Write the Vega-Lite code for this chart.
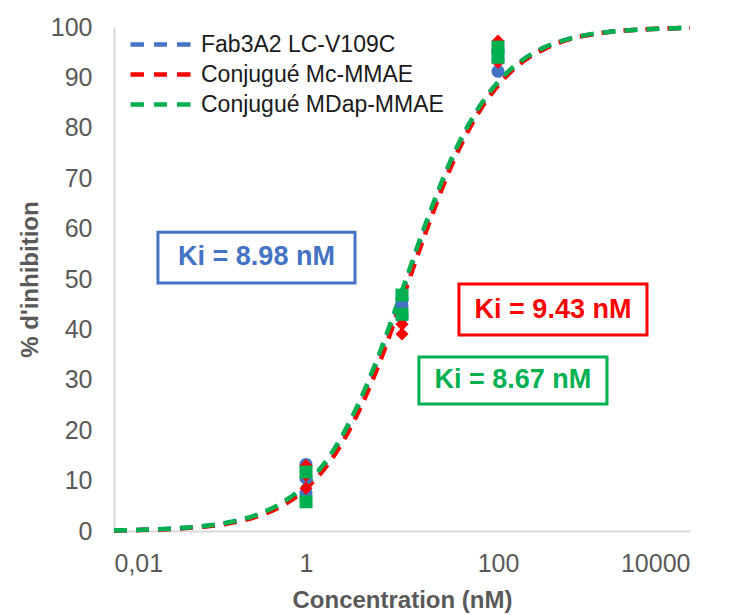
{
  "$schema": "https://vega.github.io/schema/vega-lite/v6.json",
  "autosize": {"type": "none"},
  "padding": {"left": 114, "top": 27, "right": 39, "bottom": 84},
  "width": 576,
  "height": 504,
  "background": "white",
  "config": {
    "view": {"stroke": null},
    "font": "Liberation Sans",
    "axis": {"grid": false, "ticks": false, "tickSize": 0, "domainColor": "#D9D9D9", "domainWidth": 2,
             "labelColor": "#595959", "labelFontSize": 25, "labelFont": "Liberation Sans",
             "titleColor": "#595959", "titleFontSize": 24, "titleFont": "Liberation Sans", "titleFontWeight": "bold"}
  },
  "datasets": {
    "curves": [
      {"series": "Fab3A2 LC-V109C", "x": 0.01, "y": 0.12},
      {"series": "Fab3A2 LC-V109C", "x": 0.0178, "y": 0.21},
      {"series": "Fab3A2 LC-V109C", "x": 0.0316, "y": 0.36},
      {"series": "Fab3A2 LC-V109C", "x": 0.0562, "y": 0.63},
      {"series": "Fab3A2 LC-V109C", "x": 0.1, "y": 1.08},
      {"series": "Fab3A2 LC-V109C", "x": 0.178, "y": 1.86},
      {"series": "Fab3A2 LC-V109C", "x": 0.316, "y": 3.2},
      {"series": "Fab3A2 LC-V109C", "x": 0.562, "y": 5.4},
      {"series": "Fab3A2 LC-V109C", "x": 1, "y": 9.0},
      {"series": "Fab3A2 LC-V109C", "x": 1.78, "y": 14.6},
      {"series": "Fab3A2 LC-V109C", "x": 3.16, "y": 22.9},
      {"series": "Fab3A2 LC-V109C", "x": 5.62, "y": 33.9},
      {"series": "Fab3A2 LC-V109C", "x": 10, "y": 47.1},
      {"series": "Fab3A2 LC-V109C", "x": 17.8, "y": 60.6},
      {"series": "Fab3A2 LC-V109C", "x": 31.6, "y": 72.8},
      {"series": "Fab3A2 LC-V109C", "x": 56.2, "y": 82.2},
      {"series": "Fab3A2 LC-V109C", "x": 100, "y": 88.9},
      {"series": "Fab3A2 LC-V109C", "x": 178, "y": 93.3},
      {"series": "Fab3A2 LC-V109C", "x": 316, "y": 96.0},
      {"series": "Fab3A2 LC-V109C", "x": 562, "y": 97.7},
      {"series": "Fab3A2 LC-V109C", "x": 1000, "y": 98.6},
      {"series": "Fab3A2 LC-V109C", "x": 1778, "y": 99.2},
      {"series": "Fab3A2 LC-V109C", "x": 3162, "y": 99.5},
      {"series": "Fab3A2 LC-V109C", "x": 5623, "y": 99.7},
      {"series": "Fab3A2 LC-V109C", "x": 10000, "y": 99.85},
      {"series": "Conjugué Mc-MMAE", "x": 0.01, "y": 0.1},
      {"series": "Conjugué Mc-MMAE", "x": 0.0178, "y": 0.18},
      {"series": "Conjugué Mc-MMAE", "x": 0.0316, "y": 0.32},
      {"series": "Conjugué Mc-MMAE", "x": 0.0562, "y": 0.57},
      {"series": "Conjugué Mc-MMAE", "x": 0.1, "y": 0.99},
      {"series": "Conjugué Mc-MMAE", "x": 0.178, "y": 1.72},
      {"series": "Conjugué Mc-MMAE", "x": 0.316, "y": 2.95},
      {"series": "Conjugué Mc-MMAE", "x": 0.562, "y": 5.0},
      {"series": "Conjugué Mc-MMAE", "x": 1, "y": 8.4},
      {"series": "Conjugué Mc-MMAE", "x": 1.78, "y": 13.8},
      {"series": "Conjugué Mc-MMAE", "x": 3.16, "y": 21.8},
      {"series": "Conjugué Mc-MMAE", "x": 5.62, "y": 32.6},
      {"series": "Conjugué Mc-MMAE", "x": 10, "y": 45.8},
      {"series": "Conjugué Mc-MMAE", "x": 17.8, "y": 59.4},
      {"series": "Conjugué Mc-MMAE", "x": 31.6, "y": 71.8},
      {"series": "Conjugué Mc-MMAE", "x": 56.2, "y": 81.5},
      {"series": "Conjugué Mc-MMAE", "x": 100, "y": 88.4},
      {"series": "Conjugué Mc-MMAE", "x": 178, "y": 93.0},
      {"series": "Conjugué Mc-MMAE", "x": 316, "y": 95.8},
      {"series": "Conjugué Mc-MMAE", "x": 562, "y": 97.6},
      {"series": "Conjugué Mc-MMAE", "x": 1000, "y": 98.6},
      {"series": "Conjugué Mc-MMAE", "x": 1778, "y": 99.2},
      {"series": "Conjugué Mc-MMAE", "x": 3162, "y": 99.5},
      {"series": "Conjugué Mc-MMAE", "x": 5623, "y": 99.7},
      {"series": "Conjugué Mc-MMAE", "x": 10000, "y": 99.85},
      {"series": "Conjugué MDap-MMAE", "x": 0.01, "y": 0.13},
      {"series": "Conjugué MDap-MMAE", "x": 0.0178, "y": 0.22},
      {"series": "Conjugué MDap-MMAE", "x": 0.0316, "y": 0.38},
      {"series": "Conjugué MDap-MMAE", "x": 0.0562, "y": 0.66},
      {"series": "Conjugué MDap-MMAE", "x": 0.1, "y": 1.12},
      {"series": "Conjugué MDap-MMAE", "x": 0.178, "y": 1.93},
      {"series": "Conjugué MDap-MMAE", "x": 0.316, "y": 3.3},
      {"series": "Conjugué MDap-MMAE", "x": 0.562, "y": 5.6},
      {"series": "Conjugué MDap-MMAE", "x": 1, "y": 9.3},
      {"series": "Conjugué MDap-MMAE", "x": 1.78, "y": 15.0},
      {"series": "Conjugué MDap-MMAE", "x": 3.16, "y": 23.4},
      {"series": "Conjugué MDap-MMAE", "x": 5.62, "y": 34.5},
      {"series": "Conjugué MDap-MMAE", "x": 10, "y": 47.7},
      {"series": "Conjugué MDap-MMAE", "x": 17.8, "y": 61.2},
      {"series": "Conjugué MDap-MMAE", "x": 31.6, "y": 73.2},
      {"series": "Conjugué MDap-MMAE", "x": 56.2, "y": 82.5},
      {"series": "Conjugué MDap-MMAE", "x": 100, "y": 89.1},
      {"series": "Conjugué MDap-MMAE", "x": 178, "y": 93.4},
      {"series": "Conjugué MDap-MMAE", "x": 316, "y": 96.1},
      {"series": "Conjugué MDap-MMAE", "x": 562, "y": 97.7},
      {"series": "Conjugué MDap-MMAE", "x": 1000, "y": 98.7},
      {"series": "Conjugué MDap-MMAE", "x": 1778, "y": 99.2},
      {"series": "Conjugué MDap-MMAE", "x": 3162, "y": 99.5},
      {"series": "Conjugué MDap-MMAE", "x": 5623, "y": 99.7},
      {"series": "Conjugué MDap-MMAE", "x": 10000, "y": 99.85}
    ],
    "points": [
      {"grp": "Fab3A2 LC-V109C", "x": 1, "y": 13.2},
      {"grp": "Fab3A2 LC-V109C", "x": 1, "y": 7.5},
      {"grp": "Fab3A2 LC-V109C", "x": 1, "y": 10.5},
      {"grp": "Fab3A2 LC-V109C", "x": 10, "y": 44.7},
      {"grp": "Fab3A2 LC-V109C", "x": 10, "y": 42.5},
      {"grp": "Fab3A2 LC-V109C", "x": 10, "y": 46.0},
      {"grp": "Fab3A2 LC-V109C", "x": 100, "y": 91.2},
      {"grp": "Fab3A2 LC-V109C", "x": 100, "y": 93.5},
      {"grp": "Fab3A2 LC-V109C", "x": 100, "y": 95.5},
      {"grp": "Conjugué Mc-MMAE", "x": 1, "y": 13.0},
      {"grp": "Conjugué Mc-MMAE", "x": 1, "y": 8.5},
      {"grp": "Conjugué Mc-MMAE", "x": 1, "y": 11.0},
      {"grp": "Conjugué Mc-MMAE", "x": 10, "y": 41.0},
      {"grp": "Conjugué Mc-MMAE", "x": 10, "y": 39.1},
      {"grp": "Conjugué Mc-MMAE", "x": 10, "y": 43.0},
      {"grp": "Conjugué Mc-MMAE", "x": 100, "y": 97.2},
      {"grp": "Conjugué Mc-MMAE", "x": 100, "y": 95.0},
      {"grp": "Conjugué Mc-MMAE", "x": 100, "y": 93.0},
      {"grp": "Conjugué MDap-MMAE", "x": 1, "y": 11.7},
      {"grp": "Conjugué MDap-MMAE", "x": 1, "y": 5.8},
      {"grp": "Conjugué MDap-MMAE", "x": 10, "y": 46.8},
      {"grp": "Conjugué MDap-MMAE", "x": 10, "y": 43.0},
      {"grp": "Conjugué MDap-MMAE", "x": 100, "y": 96.0},
      {"grp": "Conjugué MDap-MMAE", "x": 100, "y": 94.0}
    ],
    "boxes": [
      {"series": "Fab3A2 LC-V109C", "label": "Ki = 8.98 nM", "x1": 0.0287, "x2": 3.24, "y1": 49.2, "y2": 59.3, "tx": 0.305, "ty": 54.3},
      {"series": "Conjugué Mc-MMAE", "label": "Ki = 9.43 nM", "x1": 39.2, "x2": 3565, "y1": 38.9, "y2": 49.0, "tx": 374, "ty": 43.9},
      {"series": "Conjugué MDap-MMAE", "label": "Ki = 8.67 nM", "x1": 15.0, "x2": 1365, "y1": 25.2, "y2": 34.5, "tx": 143, "ty": 29.9}
    ]
  },
  "layer": [
    {
      "data": {"name": "curves"},
      "mark": {"type": "line", "strokeWidth": 4.5, "strokeDash": [13, 9], "interpolate": "monotone"},
      "encoding": {
        "x": {"field": "x", "type": "quantitative",
              "scale": {"type": "log", "domain": [0.01, 10000], "nice": false},
              "axis": {"values": [0.01, 1, 100, 10000], "labelExpr": "datum.value < 0.1 ? '0,01' : format(datum.value, 'd')",
                       "labelPadding": 20, "title": "Concentration (nM)", "titlePadding": 12}},
        "y": {"field": "y", "type": "quantitative",
              "scale": {"domain": [0, 100], "nice": false},
              "axis": {"values": [0, 10, 20, 30, 40, 50, 60, 70, 80, 90, 100], "labelPadding": 22,
                       "title": "% d'inhibition", "titlePadding": 8}},
        "stroke": {"field": "series", "type": "nominal",
                   "scale": {"domain": ["Fab3A2 LC-V109C", "Conjugué Mc-MMAE", "Conjugué MDap-MMAE"], "range": ["#4472C4", "#FF0000", "#00B050"]},
                   "legend": {"title": null, "orient": "none", "legendX": 29, "legendY": 0,
                              "symbolType": "M-2,0H-1.1M-0.43,0H0.43M1.1,0H2", "symbolSize": 900, "symbolStrokeWidth": 4.5,
                              "symbolFillColor": "transparent",
                              "labelFontSize": 23, "labelColor": "#1a1a1a", "labelFont": "Liberation Sans", "labelLimit": 0,
                              "rowPadding": 0, "labelOffset": 23}}
      }
    },
    {
      "data": {"name": "points"},
      "transform": [{"filter": "datum.grp == 'Fab3A2 LC-V109C'"}],
      "mark": {"type": "point", "filled": true, "opacity": 1, "size": 170, "shape": "circle", "color": "#4472C4"},
      "encoding": {
        "x": {"field": "x", "type": "quantitative"},
        "y": {"field": "y", "type": "quantitative"}
      }
    },
    {
      "data": {"name": "points"},
      "transform": [{"filter": "datum.grp == 'Conjugué Mc-MMAE'"}],
      "mark": {"type": "point", "filled": true, "opacity": 1, "size": 170, "shape": "diamond", "color": "#FF0000"},
      "encoding": {
        "x": {"field": "x", "type": "quantitative"},
        "y": {"field": "y", "type": "quantitative"}
      }
    },
    {
      "data": {"name": "points"},
      "transform": [{"filter": "datum.grp == 'Conjugué MDap-MMAE'"}],
      "mark": {"type": "point", "filled": true, "opacity": 1, "size": 170, "shape": "square", "color": "#00B050"},
      "encoding": {
        "x": {"field": "x", "type": "quantitative"},
        "y": {"field": "y", "type": "quantitative"}
      }
    },
    {
      "data": {"name": "boxes"},
      "mark": {"type": "rect", "fill": "white", "fillOpacity": 0, "strokeWidth": 3},
      "encoding": {
        "x": {"field": "x1", "type": "quantitative"},
        "x2": {"field": "x2"},
        "y": {"field": "y1", "type": "quantitative"},
        "y2": {"field": "y2"},
        "stroke": {"field": "series", "type": "nominal"}
      }
    },
    {
      "data": {"name": "boxes"},
      "mark": {"type": "text", "fontSize": 27, "fontWeight": "bold", "font": "Liberation Sans", "align": "center", "baseline": "middle"},
      "encoding": {
        "x": {"field": "tx", "type": "quantitative"},
        "y": {"field": "ty", "type": "quantitative"},
        "text": {"field": "label"},
        "fill": {"field": "series", "type": "nominal",
                 "scale": {"domain": ["Fab3A2 LC-V109C", "Conjugué Mc-MMAE", "Conjugué MDap-MMAE"], "range": ["#4472C4", "#FF0000", "#00B050"]},
                 "legend": null}
      }
    }
  ]
}
